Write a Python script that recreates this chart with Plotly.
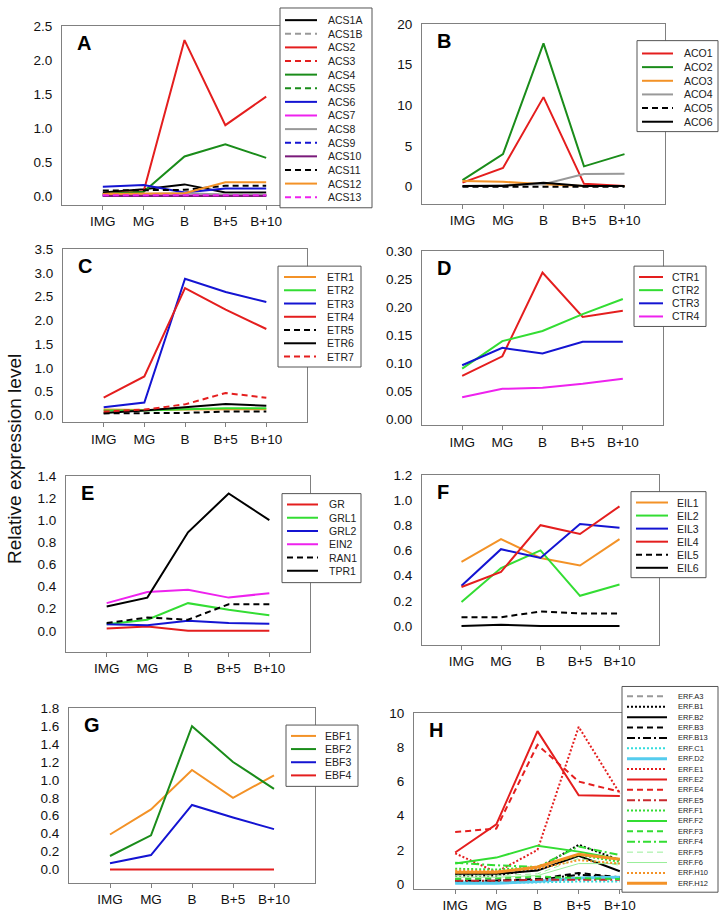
import plotly.graph_objects as go

# ripening stages (x categories)
stages = ["IMG", "MG", "B", "B+5", "B+10"]

# A - ACS genes
acs_names = ["ACS1A", "ACS1B", "ACS2", "ACS3", "ACS4", "ACS5", "ACS6", "ACS7",
             "ACS8", "ACS9", "ACS10", "ACS11", "ACS12", "ACS13"]
acs_values = [
    [0.05, 0.10, 0.17, 0.05, 0.05],
    [0.02, 0.02, 0.02, 0.02, 0.02],
    [0.03, 0.07, 2.29, 1.04, 1.46],
    [0.01, 0.01, 0.01, 0.01, 0.01],
    [0.03, 0.06, 0.58, 0.76, 0.56],
    [0.01, 0.01, 0.02, 0.01, 0.01],
    [0.135, 0.16, 0.05, 0.11, 0.11],
    [0.01, 0.01, 0.01, 0.01, 0.01],
    [0.02, 0.03, 0.04, 0.02, 0.02],
    [0.0, 0.0, 0.0, 0.0, 0.0],
    [0.0, 0.0, 0.0, 0.0, 0.0],
    [0.08, 0.09, 0.09, 0.15, 0.15],
    [0.03, 0.04, 0.04, 0.20, 0.20],
    [0.01, 0.01, 0.01, 0.01, 0.01],
]

# B - ACO genes
aco_names = ["ACO1", "ACO2", "ACO3", "ACO4", "ACO5", "ACO6"]
aco_values = [
    [0.5, 2.3, 11.0, 0.35, 0.1],
    [0.8, 4.0, 17.6, 2.5, 4.0],
    [0.7, 0.6, 0.3, 0.1, 0.1],
    [0.1, 0.2, 0.3, 1.55, 1.6],
    [0.0, 0.0, 0.0, 0.0, 0.0],
    [0.1, 0.1, 0.5, 0.1, 0.1],
]

# C - ETR genes
etr_names = ["ETR1", "ETR2", "ETR3", "ETR4", "ETR5", "ETR6", "ETR7"]
etr_values = [
    [0.12, 0.11, 0.12, 0.13, 0.13],
    [0.10, 0.10, 0.13, 0.15, 0.15],
    [0.17, 0.27, 2.88, 2.60, 2.39],
    [0.37, 0.82, 2.68, 2.23, 1.82],
    [0.04, 0.05, 0.05, 0.08, 0.08],
    [0.05, 0.10, 0.17, 0.24, 0.20],
    [0.08, 0.12, 0.23, 0.47, 0.37],
]

# D - CTR genes
ctr_names = ["CTR1", "CTR2", "CTR3", "CTR4"]
ctr_values = [
    [0.078, 0.113, 0.262, 0.183, 0.194],
    [0.091, 0.140, 0.158, 0.188, 0.215],
    [0.097, 0.128, 0.118, 0.139, 0.139],
    [0.040, 0.055, 0.057, 0.064, 0.073],
]

# E - receptor-related genes
rec_names = ["GR", "GRL1", "GRL2", "EIN2", "RAN1", "TPR1"]
rec_values = [
    [0.02, 0.04, 0.0, 0.0, 0.0],
    [0.06, 0.10, 0.25, 0.19, 0.14],
    [0.06, 0.05, 0.09, 0.07, 0.065],
    [0.25, 0.35, 0.37, 0.30, 0.34],
    [0.07, 0.12, 0.10, 0.24, 0.24],
    [0.22, 0.30, 0.89, 1.24, 1.00],
]

# F - EIL genes
eil_names = ["EIL1", "EIL2", "EIL3", "EIL4", "EIL5", "EIL6"]
eil_values = [
    [0.51, 0.69, 0.54, 0.48, 0.69],
    [0.19, 0.46, 0.60, 0.24, 0.33],
    [0.32, 0.61, 0.54, 0.81, 0.78],
    [0.31, 0.43, 0.80, 0.73, 0.95],
    [0.07, 0.07, 0.115, 0.10, 0.10],
    [0.0, 0.01, 0.0, 0.0, 0.0],
]

# G - EBF genes
ebf_names = ["EBF1", "EBF2", "EBF3", "EBF4"]
ebf_values = [
    [0.39, 0.67, 1.11, 0.80, 1.05],
    [0.15, 0.38, 1.60, 1.20, 0.90],
    [0.07, 0.16, 0.72, 0.58, 0.45],
    [0.0, 0.0, 0.0, 0.0, 0.0],
]

# H - ERF genes
erf_names = ["ERF.A3", "ERF.B1", "ERF.B2", "ERF.B3", "ERF.B13", "ERF.C1", "ERF.D2",
             "ERF.E1", "ERF.E2", "ERF.E4", "ERF.E5", "ERF.F1", "ERF.F2", "ERF.F3",
             "ERF.F4", "ERF.F5", "ERF.F6", "ERF.H10", "ERF.H12"]
erf_values = [
    [0.30, 0.30, 0.25, 0.30, 0.30],
    [0.50, 0.50, 0.90, 2.30, 1.40],
    [0.60, 0.60, 0.80, 1.65, 0.75],
    [0.20, 0.20, 0.30, 0.65, 0.40],
    [0.15, 0.20, 0.25, 0.55, 0.35],
    [0.10, 0.10, 0.10, 0.15, 0.15],
    [0.05, 0.05, 0.15, 0.35, 0.40],
    [1.80, 0.70, 2.00, 9.20, 5.30],
    [1.85, 3.50, 8.95, 5.20, 5.15],
    [3.05, 3.25, 8.15, 6.00, 5.40],
    [0.20, 0.20, 0.25, 0.25, 0.25],
    [0.90, 0.85, 1.00, 1.70, 1.30],
    [1.20, 1.55, 2.25, 1.90, 1.45],
    [0.30, 0.35, 0.45, 0.35, 0.30],
    [1.25, 1.10, 1.00, 2.20, 1.70],
    [0.50, 0.50, 0.60, 1.50, 1.10],
    [0.40, 0.40, 0.50, 1.20, 1.20],
    [0.80, 0.75, 0.90, 1.40, 1.20],
    [0.70, 0.70, 1.00, 1.75, 1.45],
]

# colours / dash patterns
RED = "#e41e1e"
DKGREEN = "#1a8c1a"
GREEN = "#33dd33"
LTGREEN = "#99ee99"
BLUE = "#1414d2"
ORANGE = "#f39227"
MAGENTA = "#ee22ee"
GRAY = "#999999"
PURPLE = "#7a1a7a"
CYAN = "#33dddd"
LTBLUE = "#55ccee"
BLACK = "#000000"
DASH = "6px,4px"
DOT = "2px,2px"
DASHDOT = "8px,3px,2px,3px"


def st(color, dash="solid", width=2):
    return dict(color=color, dash=dash, width=width)


acs_styles = [st(BLACK), st(GRAY, DASH), st(RED), st(RED, DASH), st(DKGREEN), st(DKGREEN, DASH),
              st(BLUE), st(MAGENTA), st(GRAY), st(BLUE, DASH), st(PURPLE), st(BLACK, DASH),
              st(ORANGE), st(MAGENTA, DASH)]
aco_styles = [st(RED), st(DKGREEN), st(ORANGE), st(GRAY), st(BLACK, DASH), st(BLACK)]
etr_styles = [st(ORANGE), st(GREEN), st(BLUE), st(RED), st(BLACK, DASH), st(BLACK), st(RED, DASH)]
ctr_styles = [st(RED), st(GREEN), st(BLUE), st(MAGENTA)]
rec_styles = [st(RED), st(GREEN), st(BLUE), st(MAGENTA), st(BLACK, DASH), st(BLACK)]
eil_styles = [st(ORANGE), st(GREEN), st(BLUE), st(RED), st(BLACK, DASH), st(BLACK)]
ebf_styles = [st(ORANGE), st(DKGREEN), st(BLUE), st(RED)]
erf_styles = [st(GRAY, DASH), st(BLACK, DOT), st(BLACK), st(BLACK, DASH), st(BLACK, DASHDOT),
              st(CYAN, DOT), st(LTBLUE, "solid", 3), st(RED, DOT), st(RED), st(RED, DASH),
              st("#c8282d", DASHDOT), st(GREEN, DOT), st(GREEN), st(GREEN, DASH),
              st(GREEN, DASHDOT), st(LTGREEN, DASH, 1), st(LTGREEN, "solid", 1),
              st(ORANGE, DOT), st(ORANGE, "solid", 3)]

W, H = 719, 913


def px(x):
    return x / W


def py(y):
    return 1 - y / H


# letter, names, values, styles, x-domain px, y-domain px, y-range, dtick, format,
# legend box, first row y, row step, sample line x, text x, legend font
panels = [
    ("A", acs_names, acs_values, acs_styles, (62, 307), (19, 200), (-0.13, 2.5), 0.5, ".1f",
     (280, 1, 372, 203), 13.3, 13.77, (285, 317), 326, 10.5),
    ("B", aco_names, aco_values, aco_styles, (422, 665), (17, 199), (-2.1, 20), 5, "d",
     (637, 34, 718, 126), 47, 13.8, (642, 673), 682, 10.5),
    ("C", etr_names, etr_values, etr_styles, (63, 307), (245, 420), (-0.15, 3.5), 0.5, ".1f",
     (278, 262, 361, 364), 273, 13.4, (284, 316), 325, 10.5),
    ("D", ctr_names, ctr_values, ctr_styles, (422, 663), (247, 423), (-0.01, 0.30), 0.05, ".2f",
     (634, 262, 706, 323), 273, 13.3, (639, 663), 670, 10.5),
    ("E", rec_names, rec_values, rec_styles, (66, 310), (474, 652), (-0.19, 1.4), 0.2, ".1f",
     (282, 492, 361, 582), 503, 13.4, (287, 318), 327, 10.5),
    ("F", eil_names, eil_values, eil_styles, (422, 659), (473, 645), (-0.15, 1.2), 0.2, ".1f",
     (631, 490, 706, 577), 501, 13.2, (636, 668), 675, 10.5),
    ("G", ebf_names, ebf_values, ebf_styles, (69, 315), (709, 886), (-0.155, 1.8), 0.2, ".1f",
     (286, 726, 358, 788), 737, 13.3, (291, 316), 323, 10.5),
    ("H", erf_names, erf_values, erf_styles, (414, 661), (714, 892), (-0.3, 10), 2, "d",
     (622, 687, 718, 895), 697, 10.5, (627, 667), 676, 7.5),
]

FONT = "Liberation Sans, Arial, sans-serif"
fig = go.Figure()
layout = {}

for i, (letter, names, values, styles, xd, yd, yr, dt, fmt,
        box, first, step, lx, tx, lsize) in enumerate(panels, start=1):
    sfx = "" if i == 1 else str(i)
    for name, vals, s in zip(names, values, styles):
        fig.add_trace(go.Scatter(x=stages, y=vals, mode="lines", name=name, line=s,
                                 showlegend=False, xaxis="x" + sfx, yaxis="y" + sfx))
    layout["xaxis" + sfx] = dict(
        domain=[px(xd[0]), px(xd[1])], anchor="y" + sfx, type="category",
        categoryarray=stages, range=[-1, 5], showline=True, mirror=True,
        linecolor="#808080", linewidth=1, ticks="outside", ticklen=4, tickcolor="#808080",
        showgrid=False, zeroline=False, tickfont=dict(size=13.5, color="#111", family=FONT))
    layout["yaxis" + sfx] = dict(
        domain=[py(yd[1]), py(yd[0])], anchor="x" + sfx, range=list(yr), dtick=dt, tick0=0,
        tickformat=fmt, showline=True, mirror=True, linecolor="#808080", linewidth=1,
        ticks="", ticklabelstandoff=6, showgrid=False, zeroline=False,
        tickfont=dict(size=13.5, color="#111", family=FONT))

    # panel letter
    fig.add_annotation(text="<b>%s</b>" % letter, xref="paper", yref="paper",
                       x=px(xd[0] + 13), y=py(yd[0] + 17), xanchor="left", yanchor="middle",
                       showarrow=False, font=dict(size=20, color="#000", family=FONT))

    # legend box
    fig.add_shape(type="rect", xref="paper", yref="paper", x0=px(box[0]), x1=px(box[2]),
                  y0=py(box[3]), y1=py(box[1]), line=dict(color="#555", width=1),
                  fillcolor="white", layer="above")
    for k, (name, s) in enumerate(zip(names, styles)):
        yy = first + k * step
        fig.add_shape(type="line", xref="paper", yref="paper", x0=px(lx[0]), x1=px(lx[1]),
                      y0=py(yy), y1=py(yy), line=s, layer="above")
        fig.add_annotation(text=name, xref="paper", yref="paper", x=px(tx), y=py(yy),
                           xanchor="left", yanchor="middle", showarrow=False,
                           font=dict(size=lsize, color="#222", family=FONT))

fig.add_annotation(text="Relative expression level", xref="paper", yref="paper",
                   x=px(15), y=py(457), textangle=-90, showarrow=False,
                   xanchor="center", yanchor="middle",
                   font=dict(size=19, color="#111", family=FONT))

fig.update_layout(width=W, height=H, margin=dict(l=0, r=0, t=0, b=0),
                  paper_bgcolor="white", plot_bgcolor="white",
                  font=dict(family=FONT), **layout)

# drop the browser's default 8px body margin so the figure sits at the page corner
fig.write_html("out.html", config={"displayModeBar": False},
               post_script="document.body.style.margin='0';document.body.style.overflow='hidden';")
